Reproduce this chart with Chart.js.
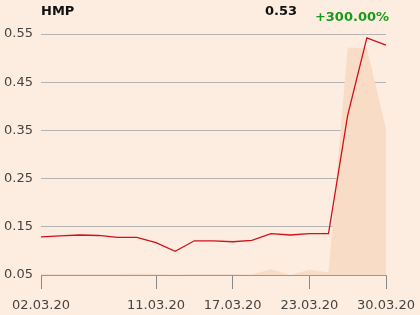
<!DOCTYPE html>
<html>
<head>
<meta charset="utf-8">
<script src="https://cdn.jsdelivr.net/npm/chart.js@4/dist/chart.umd.min.js"></script>
<style>
  html, body { margin: 0; padding: 0; background: #fcede0; }
  #wrap { width: 420px; height: 315px; position: relative; }
</style>
</head>
<body>
<div id="wrap"><canvas id="c" width="420" height="315"></canvas></div>
<script>
const dates = ['02.03.20','03.03.20','04.03.20','05.03.20','06.03.20','09.03.20','11.03.20','12.03.20','13.03.20','16.03.20','17.03.20','18.03.20','19.03.20','20.03.20','23.03.20','24.03.20','25.03.20','26.03.20','30.03.20'];
const prices = [0.129,0.131,0.133,0.132,0.128,0.128,0.117,0.099,0.121,0.121,0.119,0.122,0.136,0.133,0.136,0.136,0.381,0.542,0.527];
const volume = [0.052,0.052,0.052,0.052,0.052,0.053,0.052,0.051,0.052,0.052,0.052,0.051,0.062,0.050,0.061,0.055,0.522,0.520,0.354];
const shownTicks = ['02.03.20','11.03.20','17.03.20','23.03.20','30.03.20'];
const yTicks = [0.05,0.15,0.25,0.35,0.45,0.55];
const titleName = 'HMP';
const lastPrice = '0.53';
const changePct = '+300.00%';

const FONT = '"DejaVu Sans", sans-serif';

const header = {
  id: 'header',
  afterDraw(chart) {
    const ctx = chart.ctx;
    ctx.save();
    ctx.font = 'bold 13px ' + FONT;
    ctx.textBaseline = 'alphabetic';
    ctx.fillStyle = '#111';
    ctx.textAlign = 'left';
    ctx.fillText(titleName, 41, 15);
    ctx.textAlign = 'right';
    ctx.fillText(lastPrice, 297, 15);
    ctx.fillStyle = '#1a9a1a';
    ctx.fillText(changePct, 389, 21);
    ctx.restore();
  }
};

new Chart(document.getElementById('c'), {
  type: 'line',
  data: {
    labels: dates,
    datasets: [
      {
        data: prices,
        borderColor: '#d0101b',
        borderWidth: 1.3,
        pointRadius: 0,
        fill: false,
        tension: 0,
        order: 1
      },
      {
        data: volume,
        borderWidth: 0,
        borderColor: 'rgba(0,0,0,0)',
        backgroundColor: '#f8dcc6',
        pointRadius: 0,
        fill: 'start',
        tension: 0,
        order: 2
      }
    ]
  },
  options: {
    responsive: false,
    animation: false,
    devicePixelRatio: 1,
    layout: { padding: { top: 34, right: 34, left: 0, bottom: 0 } },
    plugins: { legend: { display: false }, tooltip: { enabled: false } },
    scales: {
      x: {
        offset: false,
        grid: { drawOnChartArea: false, drawTicks: true, tickLength: 14, color: '#888' },
        border: { display: true, color: '#999', width: 1 },
        ticks: {
          autoSkip: false,
          maxRotation: 0,
          padding: 9,
          color: '#444',
          font: { family: FONT, size: 13 },
          callback(v, i) { const l = dates[i]; return shownTicks.includes(l) ? l : null; }
        },
        afterFit(s) { s.height = 40; s.paddingRight = 0; s.paddingLeft = 0; }
      },
      y: {
        min: 0.05,
        max: 0.55,
        afterBuildTicks(s) { s.ticks = yTicks.map(v => ({ value: v })); },
        grid: { drawTicks: false, color: '#b4b4b4', lineWidth: 1 },
        border: { display: false },
        ticks: {
          padding: 8,
          color: '#444',
          font: { family: FONT, size: 13 },
          callback(v) { return Number(v).toFixed(2); }
        },
        afterFit(s) { s.width = 41; s.paddingTop = 0; s.paddingBottom = 0; }
      }
    }
  },
  plugins: [header]
});
</script>
</body>
</html>
